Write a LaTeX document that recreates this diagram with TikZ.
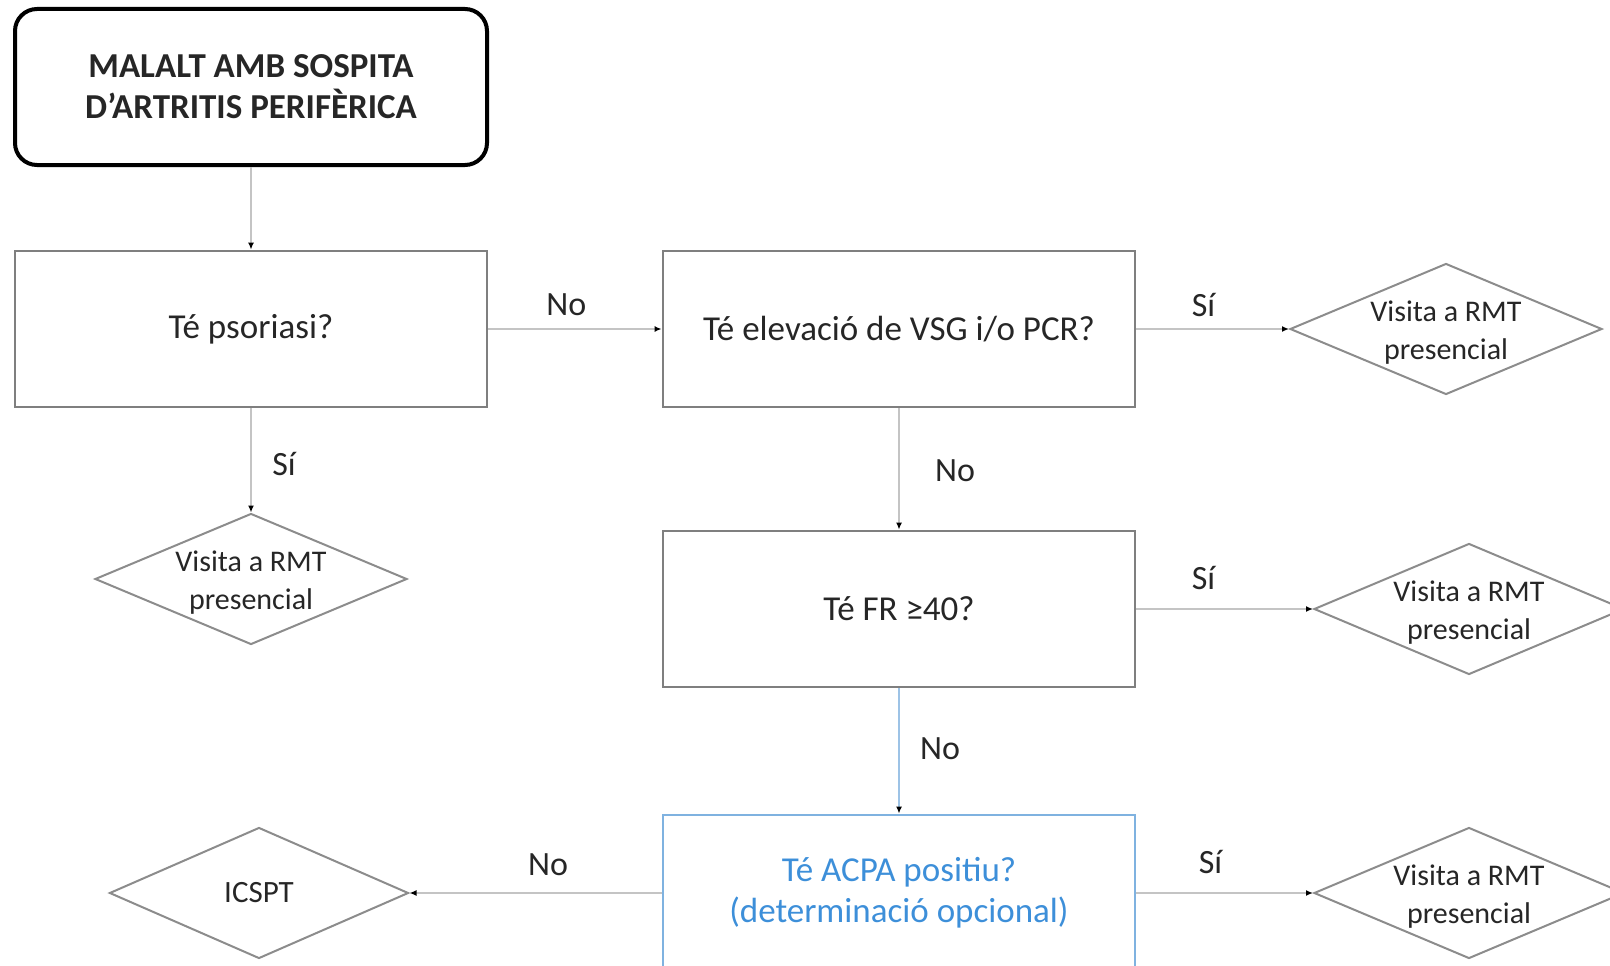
\documentclass[tikz,border=0pt]{standalone}
\usepackage{fontspec}
\setmainfont{Carlito}
\usetikzlibrary{shapes.geometric,arrows.meta}
\definecolor{boxgray}{HTML}{7F7F7F}
\definecolor{linegray}{HTML}{C4C4C4}
\definecolor{dgray}{HTML}{8C8C8C}
\definecolor{acpaline}{HTML}{7FB2E0}
\definecolor{acpatext}{HTML}{3D8FD9}
\definecolor{linkblue}{HTML}{9DC3E6}
\definecolor{txt}{HTML}{262626}
\tikzset{
  startbox/.style={draw=black, line width=4pt, rounded corners=22pt, minimum width=472pt, minimum height=156pt, align=center, font=\fontsize{35}{41}\selectfont\bfseries, text=txt},
  qbox/.style={draw=boxgray, line width=2.8pt, minimum width=472pt, minimum height=156pt, align=center, font=\fontsize{35}{41}\selectfont, text=txt},
  acpabox/.style={qbox, draw=acpaline, text=acpatext},
  dia/.style={draw=dgray, line width=2pt, diamond, inner sep=0pt, minimum width=#1, minimum height=131pt, shape aspect=2.4, label={[align=center, font=\fontsize{30}{38}\selectfont, text=txt, yshift=-4pt]center:\dtext}},
  conn/.style={draw=linegray, line width=2.5pt, -{Latex[length=7pt, width=6pt, color=black]}},
  bconn/.style={conn, draw=linkblue},
  lbl/.style={font=\fontsize{34}{40}\selectfont, text=txt, inner sep=0pt}
}
\newcommand{\dtext}{Visita a RMT\\presencial}
\begin{document}
\begin{tikzpicture}[x=1pt,y=-1pt]
\useasboundingbox (0,0) rectangle (1610,966);
\clip (0,0) rectangle (1610,966);
\node[startbox] (start) at (251,87) {MALALT AMB SOSPITA\\D'ARTRITIS PERIFÈRICA};
\node[qbox] (pso) at (251,329) {Té psoriasi?};
\node[qbox] (elev) at (899,329) {Té elevació de VSG i/o PCR?};
\node[qbox] (fr) at (899,609) {Té FR ≥40?};
\node[acpabox] (acpa) at (899,893) {Té ACPA positiu?\\(determinació opcional)};
\node[dia=312pt] (d1) at (1446,329) {};
\node[dia=312pt] (d2) at (251,579) {};
\node[dia=310pt] (d3) at (1469,609) {};
\node[dia=310pt] (d4) at (1469,893) {};
\node[draw=dgray, line width=2pt, diamond, inner sep=0pt, minimum width=299pt, minimum height=131pt, shape aspect=2.3, font=\fontsize{31}{38}\selectfont, text=txt] (ic) at (259,893) {ICSPT};
\draw[conn] (start) -- (pso);
\draw[conn] (pso) -- node[lbl, pos=0.45, yshift=24pt]{No} (elev);
\draw[conn] (elev) -- node[lbl, pos=0.44, yshift=24pt]{Sí} (d1);
\draw[conn] (pso) -- node[lbl, pos=0.53, xshift=33pt]{Sí} (d2);
\draw[conn] (elev) -- node[lbl, pos=0.51, xshift=56pt]{No} (fr);
\draw[conn] (fr) -- node[lbl, pos=0.38, yshift=31pt]{Sí} (d3);
\draw[bconn] (fr) -- node[lbl, pos=0.48, xshift=41pt]{No} (acpa);
\draw[conn] (acpa) -- node[lbl, pos=0.42, yshift=31pt]{Sí} (d4);
\draw[conn] (acpa) -- node[lbl, pos=0.45, yshift=28pt]{No} (ic);
\end{tikzpicture}
\end{document}
